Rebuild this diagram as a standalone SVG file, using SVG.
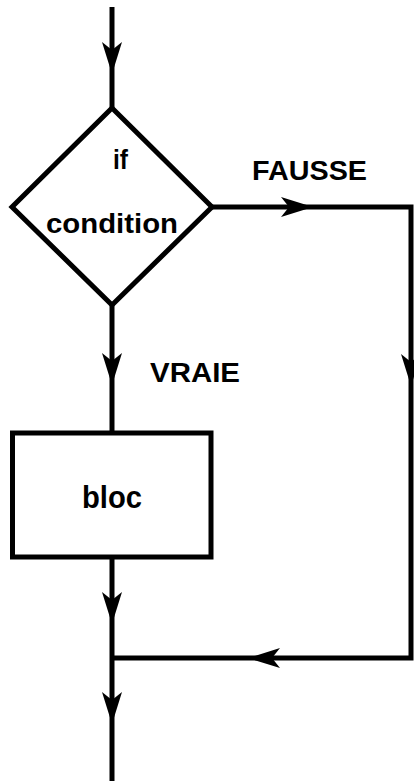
<svg xmlns="http://www.w3.org/2000/svg" xmlns:xlink="http://www.w3.org/1999/xlink" width="414" height="781" viewBox="0 0 414 781">
  <style>
    .ln { fill: none; stroke: #000; stroke-width: 5; stroke-linejoin: miter; stroke-linecap: butt; }
    .shape { fill: #fff; stroke: #000; stroke-width: 5; stroke-linejoin: miter; }
    .t { font-family: "Liberation Sans", Arial, Helvetica, sans-serif; font-weight: bold; font-size: 27px; fill: #000; }
    .ah { fill: #000; stroke: none; }
  </style>
  <defs>
    <path id="ah" class="ah" d="M0,0 L-32,-10 L-24,0 L-32,10 Z"/>
  </defs>
  <rect width="414" height="781" fill="#fff"/>

  <g id="connectors">
    <path class="ln" d="M112,7 L112,108"/>
    <path class="ln" d="M112,305 L112,433"/>
    <path class="ln" d="M112,557 L112,781"/>
    <path class="ln" d="M212,207 L411,207 L411,658 L112,658"/>
    <use xlink:href="#ah" transform="translate(112,74) rotate(90)"/>
    <use xlink:href="#ah" transform="translate(313,207)"/>
    <use xlink:href="#ah" transform="translate(411,386) rotate(90)"/>
    <use xlink:href="#ah" transform="translate(112,385) rotate(90)"/>
    <use xlink:href="#ah" transform="translate(112,624) rotate(90)"/>
    <use xlink:href="#ah" transform="translate(248,658) rotate(180)"/>
    <use xlink:href="#ah" transform="translate(112,724) rotate(90)"/>
    <text class="t" x="252" y="180" textLength="115" lengthAdjust="spacingAndGlyphs">FAUSSE</text>
    <text class="t" x="150" y="382" textLength="90" lengthAdjust="spacingAndGlyphs">VRAIE</text>
  </g>

  <g id="decision">
    <path class="shape" d="M112,108 L212,207 L112,305 L12,207 Z"/>
    <text class="t" x="113" y="169" textLength="15" lengthAdjust="spacingAndGlyphs">if</text>
    <text class="t" x="46" y="233" textLength="132" lengthAdjust="spacingAndGlyphs">condition</text>
  </g>

  <g id="bloc">
    <rect class="shape" x="12.5" y="433" width="198.5" height="124"/>
    <text class="t" x="82" y="508" font-size="31" style="font-size:31px" textLength="60" lengthAdjust="spacingAndGlyphs">bloc</text>
  </g>
</svg>
